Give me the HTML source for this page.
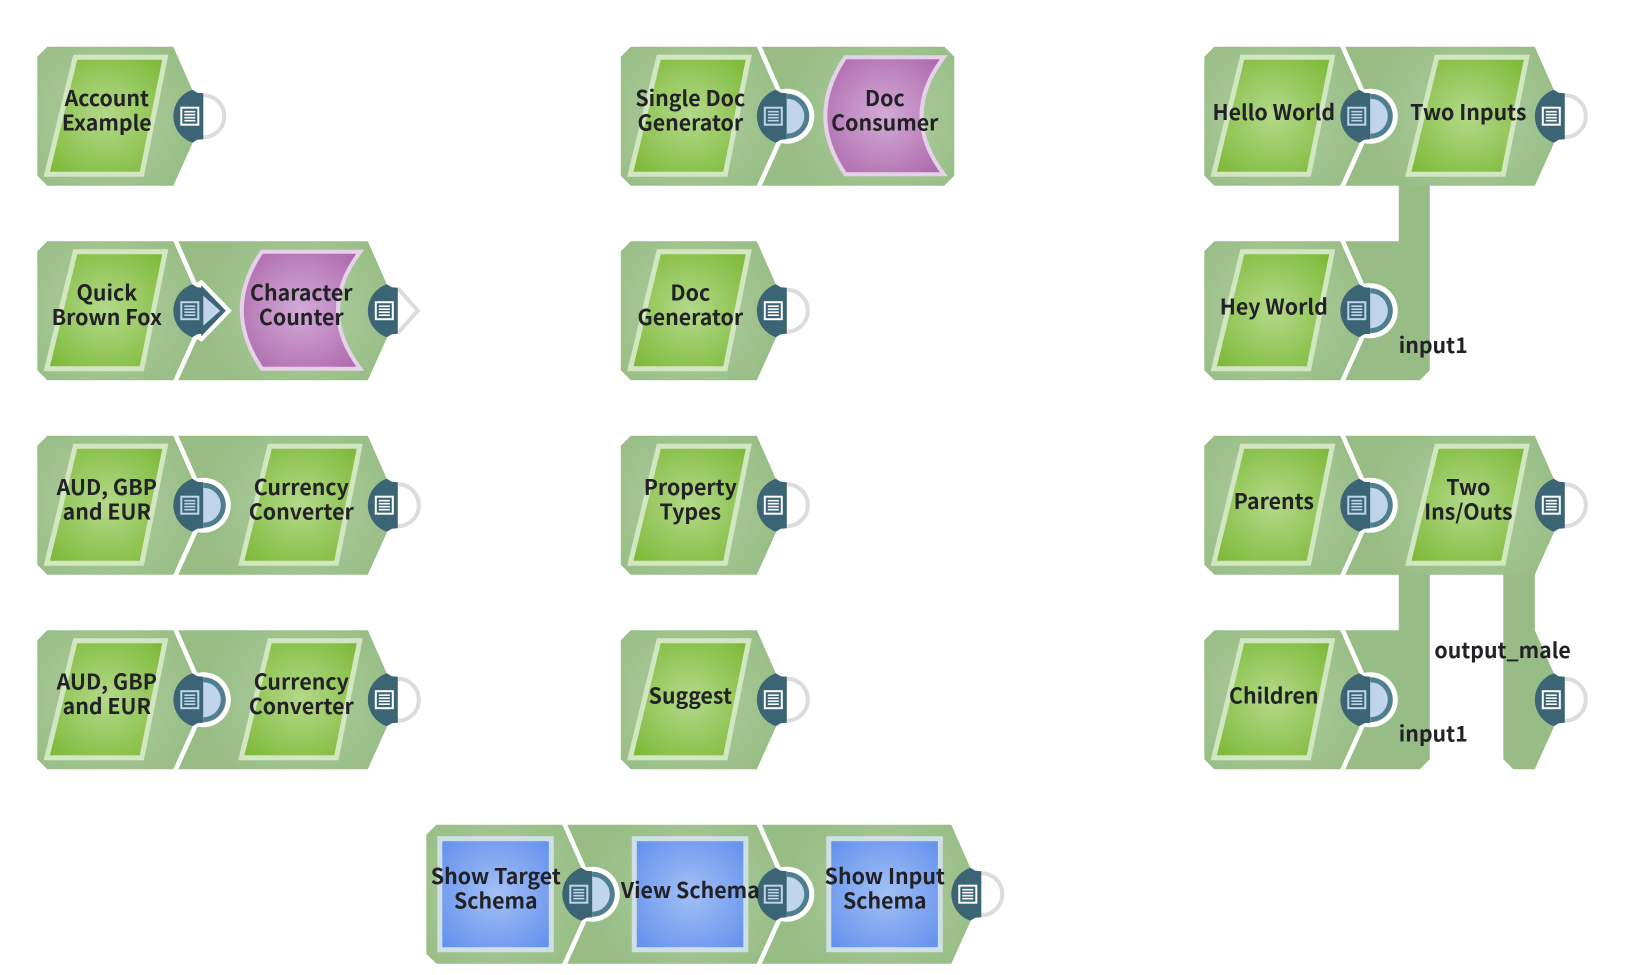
<!DOCTYPE html>
<html>
<head>
<meta charset="utf-8">
<style>
html,body{margin:0;padding:0;background:#fff;width:1625px;height:975px;overflow:hidden}
svg{display:block}
text{font-family:"Noto Sans CJK JP","Liberation Sans",sans-serif;font-weight:700;font-size:21.3px;fill:#222226;text-anchor:middle}
</style>
</head>
<body>
<svg width="1625" height="975" viewBox="0 0 1625 975" xmlns="http://www.w3.org/2000/svg">
<defs>
<radialGradient id="gb" gradientUnits="userSpaceOnUse" cx="70" cy="69.5" r="100"><stop offset="0" stop-color="#b0cea3"/><stop offset="0.75" stop-color="#9dc18b"/><stop offset="1" stop-color="#97bc84"/></radialGradient>
<radialGradient id="gg" gradientUnits="userSpaceOnUse" cx="69" cy="69" r="82"><stop offset="0" stop-color="#b4d98a"/><stop offset="1" stop-color="#7ab733"/></radialGradient>
<radialGradient id="gp" gradientUnits="userSpaceOnUse" cx="69" cy="69" r="85"><stop offset="0" stop-color="#d2abd6"/><stop offset="1" stop-color="#aa62a8"/></radialGradient>
<radialGradient id="gl" gradientUnits="userSpaceOnUse" cx="70" cy="69" r="78"><stop offset="0" stop-color="#a3c0f6"/><stop offset="1" stop-color="#5f8eec"/></radialGradient>
<polygon id="f" fill="url(#gb)" points="10,0 136,0 155,43 155,97 136,139 10,139 0,129 0,10"/>
<polygon id="m" fill="url(#gb)" points="-53.5,0 136,0 155,43 155,97 136,139 -53.5,139 -34.5,97 -34.5,43"/>
<polygon id="e" fill="url(#gb)" points="-53.5,0 129,0 139,10 139,129 129,139 -53.5,139 -34.5,97 -34.5,43"/>
<polygon id="ins" fill="#98bc85" points="-53.5,0 0,0 0,-57 31,-57 31,129 21,139 -53.5,139 -34.5,97 -34.5,43"/>
<polygon id="om" fill="#98bc85" points="104.5,-57 136,-57 136,0 155,43 155,97 136,139 114.5,139 104.5,129"/>
<polygon id="pg" fill="url(#gg)" stroke="#d3e6c2" stroke-width="5" points="38,10.5 128,10.5 104.5,127.5 9.5,127.5"/>
<path id="pk" fill="url(#gp)" stroke="#e5d2e8" stroke-width="4" d="M30,10.5 L128.5,10.5 Q84,69 128.5,127.5 L30,127.5 Q-10,69 30,10.5 Z"/>
<rect id="pb" x="13.5" y="14" width="111.5" height="111" fill="url(#gl)" stroke="#cfdfe6" stroke-width="5"/>
<path id="d" fill="#3b6474" d="M155,43 A28 28 0 0 0 155,96 L160,93 L166,92.5 L166,46.5 L160,46 Z"/>
<g id="iw"><rect x="144" y="61" width="17" height="17" fill="#3b6474" stroke="#fff" stroke-width="2"/><path d="M147,65h11M147,68h11M147,71h11M147,74h11" stroke="#fff" stroke-width="1.6"/></g>
<g id="ib"><rect x="144" y="61" width="17" height="17" fill="#3b6474" stroke="#c0d5ec" stroke-width="2"/><path d="M147,65h11M147,68h11M147,71h11M147,74h11" stroke="#c0d5ec" stroke-width="1.6"/></g>
<g id="po"><path d="M166,48.5 A21 21 0 0 1 166,90.5" fill="none" stroke="#dcdcdc" stroke-width="4"/><use href="#d"/><use href="#iw"/></g>
<g id="pc"><circle cx="166" cy="69.5" r="27.5" fill="#fff"/><use href="#d"/><path d="M166,47 A22.5 22.5 0 0 1 166,92 Z" fill="#4f7f8f"/><path d="M166,52 A17.5 17.5 0 0 1 166,87 Z" fill="#c0d5ec"/><use href="#ib"/></g>
<g id="pa"><polygon points="155.5,43.5 164.5,38.5 194.5,69.5 164.5,100.5 155.5,95.5" fill="#fff"/><use href="#d"/><polygon points="164,44 188.5,69.5 164,95" fill="#3b6474"/><polygon points="166,54.5 183,69.5 166,84.5" fill="#c0d5ec"/><use href="#ib"/></g>
<g id="pt"><path d="M166,47 L186,69.5 L166,92" fill="none" stroke="#dcdcdc" stroke-width="4"/><use href="#d"/><use href="#iw"/></g>
</defs>

<!-- Column 1 -->
<g transform="translate(37.3,46.7)"><use href="#f"/><use href="#pg"/><use href="#po"/><text x="69.5" y="59.5">Account</text><text x="69.5" y="84">Example</text></g>

<g transform="translate(231.8,241.2)"><use href="#m"/><use href="#pk"/><use href="#pt"/><text x="69.5" y="59.5">Character</text><text x="69.5" y="84">Counter</text></g>
<g transform="translate(37.3,241.2)"><use href="#f"/><use href="#pg"/><use href="#pa"/><text x="69.5" y="59.5">Quick</text><text x="69.5" y="84">Brown Fox</text></g>

<g transform="translate(231.8,435.7)"><use href="#m"/><use href="#pg"/><use href="#po"/><text x="69.5" y="59.5">Currency</text><text x="69.5" y="84">Converter</text></g>
<g transform="translate(37.3,435.7)"><use href="#f"/><use href="#pg"/><use href="#pc"/><text x="69.5" y="59.5">AUD, GBP</text><text x="69.5" y="84">and EUR</text></g>

<g transform="translate(231.8,630.2)"><use href="#m"/><use href="#pg"/><use href="#po"/><text x="69.5" y="59.5">Currency</text><text x="69.5" y="84">Converter</text></g>
<g transform="translate(37.3,630.2)"><use href="#f"/><use href="#pg"/><use href="#pc"/><text x="69.5" y="59.5">AUD, GBP</text><text x="69.5" y="84">and EUR</text></g>

<!-- Column 2 -->
<g transform="translate(815.3,46.7)"><use href="#e"/><use href="#pk"/><text x="69.5" y="59.5">Doc</text><text x="69.5" y="84">Consumer</text></g>
<g transform="translate(620.8,46.7)"><use href="#f"/><use href="#pg"/><use href="#pc"/><text x="69.5" y="59.5">Single Doc</text><text x="69.5" y="84">Generator</text></g>
<g transform="translate(620.8,241.2)"><use href="#f"/><use href="#pg"/><use href="#po"/><text x="69.5" y="59.5">Doc</text><text x="69.5" y="84">Generator</text></g>
<g transform="translate(620.8,435.7)"><use href="#f"/><use href="#pg"/><use href="#po"/><text x="69.5" y="59.5">Property</text><text x="69.5" y="84">Types</text></g>
<g transform="translate(620.8,630.2)"><use href="#f"/><use href="#pg"/><use href="#po"/><text x="69.5" y="73.5">Suggest</text></g>

<!-- Column 3 -->
<g transform="translate(1398.8,241.2)"><use href="#ins"/></g>
<g transform="translate(1398.8,46.7)"><use href="#m"/><use href="#pg"/><use href="#po"/><text x="69.5" y="73.5">Two Inputs</text></g>
<g transform="translate(1204.3,46.7)"><use href="#f"/><use href="#pg"/><use href="#pc"/><text x="69.5" y="73.5">Hello World</text></g>
<g transform="translate(1204.3,241.2)"><use href="#f"/><use href="#pg"/><use href="#pc"/><text x="69.5" y="73.5">Hey World</text></g>
<text x="1433.2" y="353">input1</text>

<g transform="translate(1398.8,630.2)"><use href="#ins"/><use href="#om"/><use href="#po"/></g>
<g transform="translate(1398.8,435.7)"><use href="#m"/><use href="#pg"/><use href="#po"/><text x="69.5" y="59.5">Two</text><text x="69.5" y="84">Ins/Outs</text></g>
<g transform="translate(1204.3,435.7)"><use href="#f"/><use href="#pg"/><use href="#pc"/><text x="69.5" y="73.5">Parents</text></g>
<g transform="translate(1204.3,630.2)"><use href="#f"/><use href="#pg"/><use href="#pc"/><text x="69.5" y="73.5">Children</text></g>
<text x="1433.2" y="741.7">input1</text>
<text x="1502.6" y="657.8">output_male</text>

<!-- Bottom row -->
<g transform="translate(815.3,824.7)"><use href="#m"/><use href="#pb"/><use href="#po"/><text x="69.5" y="59.5">Show Input</text><text x="69.5" y="84">Schema</text></g>
<g transform="translate(620.8,824.7)"><use href="#m"/><use href="#pb"/><use href="#pc"/></g>
<g transform="translate(426.3,824.7)"><use href="#f"/><use href="#pb"/><use href="#pc"/><text x="69.5" y="59.5">Show Target</text><text x="69.5" y="84">Schema</text></g>
<text x="690.3" y="898.2">View Schema</text>
</svg>
</body>
</html>
